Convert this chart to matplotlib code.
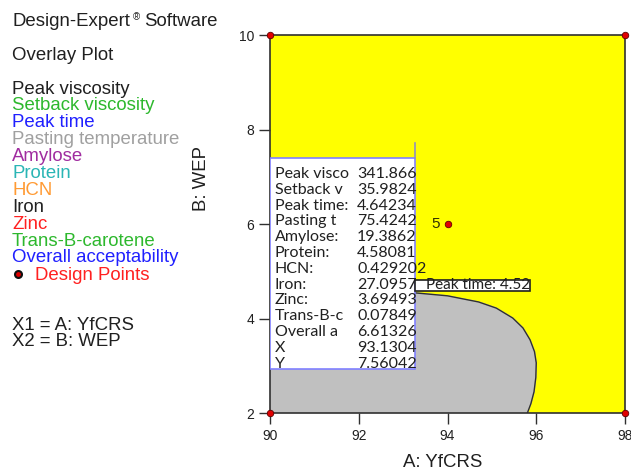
import matplotlib
matplotlib.use('Agg')
import matplotlib.pyplot as plt
import numpy as np

plt.rcParams['font.family'] = ['Liberation Sans', 'DejaVu Sans']

# overlay region: grey (not acceptable) boundary, A: YfCRS vs B: WEP
bnd_x = [90.0, 92.0, 93.3, 94.0, 94.7, 95.1, 95.47, 95.7, 95.86, 95.96, 96.0, 95.99, 95.95, 95.88, 95.8]
bnd_y = [4.56, 4.56, 4.54, 4.48, 4.35, 4.22, 4.01, 3.80, 3.55, 3.30, 3.06, 2.75, 2.45, 2.20, 2.0]

# design points
pts_x = [90, 98, 90, 98, 94]
pts_y = [10, 10, 2, 2, 6]

# flag values
flag_names = ['Peak visco', 'Setback v', 'Peak time:', 'Pasting t', 'Amylose:', 'Protein:', 'HCN:',
              'Iron:', 'Zinc:', 'Trans-B-c', 'Overall a', 'X', 'Y']
flag_vals = ['341.866', '35.9824', '4.64234', '75.4242', '19.3862', '4.58081', '0.429202',
             '27.0957', '3.69493', '0.07849', '6.61326', '93.1304', '7.56042']

legend_names = ['Peak viscosity', 'Setback viscosity', 'Peak time', 'Pasting temperature', 'Amylose',
                'Protein', 'HCN', 'Iron', 'Zinc', 'Trans-B-carotene', 'Overall acceptability']
legend_colors = ['#202020', '#2db82d', '#2020ff', '#a0a0a0', '#a02ca0', '#2ab5b5', '#ff9a33',
                 '#202020', '#ff2020', '#2db82d', '#2020ff']

W, H = 631, 473
fig = plt.figure(figsize=(W / 100, H / 100), dpi=100)
ax = fig.add_axes([270 / W, 1 - 413 / H, 355 / W, 378 / H])
ax.set_facecolor('#ffff00')

ax.fill(bnd_x + [90], bnd_y + [2], color='#c0c0c0', zorder=1)
ax.plot(bnd_x, bnd_y, color='#303030', lw=1.0, zorder=2)

ax.set_xlim(90, 98)
ax.set_ylim(2, 10)
ax.set_xticks([90, 92, 94, 96, 98])
ax.set_yticks([2, 4, 6, 8, 10])
ax.tick_params(direction='out', length=8, width=1, color='#303030', labelsize=10, labelcolor='#202020')
for s in ax.spines.values():
    s.set_color('#303030')
    s.set_linewidth(1.2)

ax.scatter(pts_x, pts_y, s=22, color='#e00000', edgecolor='#600000', lw=0.6, zorder=6, clip_on=False)
ax.text(pts_x[4] - 0.18, pts_y[4], '5', ha='right', va='center', fontsize=11, color='#303000', zorder=6)

# flag box
bx0, bx1 = 0.0, (415 - 270) / 355
by0, by1 = (413 - 369) / 378, (413 - 158) / 378
ax.add_patch(plt.Rectangle((bx0, by0), bx1 - bx0, by1 - by0, transform=ax.transAxes,
                           facecolor='white', edgecolor='#8080ff', lw=1.2, zorder=4))
ax.plot([bx1, bx1], [by1, (413 - 143) / 378], transform=ax.transAxes, color='#9090c0', lw=1.2, zorder=4)
for i in range(len(flag_names)):
    yy = (413 - (174 + i * 15.8)) / 378
    ax.text(5 / 355, yy, flag_names[i], transform=ax.transAxes, ha='left', va='center',
            fontsize=11.5, family=['Lato', 'DejaVu Sans'], color='#202020', zorder=5)
    ax.text(87 / 355, yy, flag_vals[i], transform=ax.transAxes, ha='left', va='center',
            fontsize=11.5, family=['Lato', 'DejaVu Sans'], color='#202020', zorder=5)

# contour label
lab_box = plt.Rectangle((145 / 355, (413 - 291) / 378), 115 / 355, 11 / 378, transform=ax.transAxes,
                        facecolor='white', edgecolor='#202020', lw=1.2, zorder=5)
ax.add_patch(lab_box)
lab = ax.text(156 / 355, (413 - 285) / 378, 'Peak time: 4.52', transform=ax.transAxes, ha='left',
              va='center', fontsize=11, family=['Lato', 'DejaVu Sans'], color='#202020', zorder=5)
lab.set_clip_path(lab_box)

# left legend text
fig.text(12 / W, 1 - 22 / H, 'Design-Expert', fontsize=13.4, va='center', ha='left', color='#202020')
fig.text(133 / W, 1 - 17 / H, '®', fontsize=7, va='center', ha='left', color='#202020')
fig.text(144 / W, 1 - 22 / H, 'Software', fontsize=13.4, va='center', ha='left', color='#202020')
fig.text(12 / W, 1 - 56 / H, 'Overlay Plot', fontsize=13.4, va='center', ha='left', color='#202020')
for i, (name, c) in enumerate(zip(legend_names, legend_colors)):
    fig.text(12 / W, 1 - (89 + i * 16.9) / H, name, fontsize=13.4, va='center', ha='left', color=c)
fig.text(35 / W, 1 - 275 / H, 'Design Points', fontsize=13.4, va='center', ha='left', color='#ff2020')
fig.add_artist(matplotlib.lines.Line2D([18 / W], [1 - 274 / H], marker='o', markersize=5,
                                       markerfacecolor='#e00000', markeredgecolor='#101010', mew=1.5))
fig.text(12 / W, 1 - 325 / H, 'X1 = A: YfCRS', fontsize=13.4, va='center', ha='left', color='#202020')
fig.text(12 / W, 1 - 342 / H, 'X2 = B: WEP', fontsize=13.4, va='center', ha='left', color='#202020')

fig.text(201 / W, 1 - 178 / H, 'B: WEP', rotation=90, fontsize=13.4, va='center', ha='center', color='#202020')
fig.text(443 / W, 1 - 462 / H, 'A: YfCRS', fontsize=13.4, va='center', ha='center', color='#202020')

fig.savefig('out.png', dpi=100, facecolor='white')
